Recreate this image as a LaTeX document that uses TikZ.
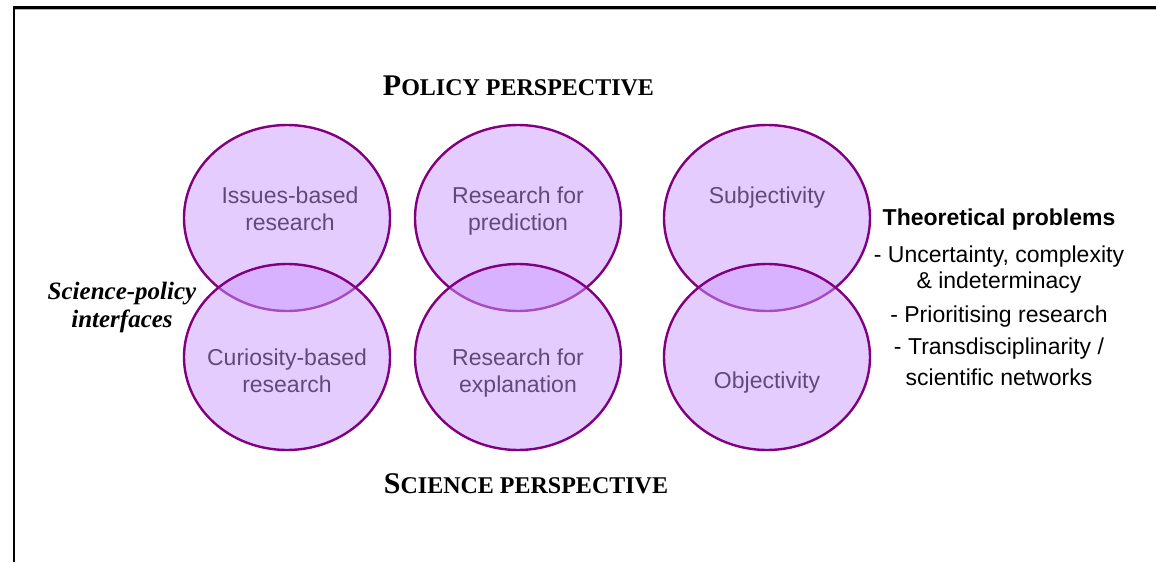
\documentclass[tikz,border=0pt]{standalone}
\usepackage{fontspec}
\setmainfont{Liberation Serif}
\setsansfont{Liberation Sans}
\usetikzlibrary{shapes.geometric}
\definecolor{circfill}{HTML}{CC99FF}
\definecolor{circline}{HTML}{800080}
\definecolor{circtext}{HTML}{5F4A7C}
\tikzset{
  venn/.style={ellipse, draw=circline, line width=2.4pt, fill=circfill, fill opacity=0.5, draw opacity=1,
    minimum width=206pt, minimum height=186pt, inner sep=0pt},
  ctext/.style={anchor=base, inner sep=0pt, text=circtext, font=\sffamily\fontsize{23}{27}\selectfont},
  rtext/.style={anchor=base, inner sep=0pt, text=black, font=\sffamily\fontsize{23}{27}\selectfont},
  ttext/.style={anchor=base, inner sep=0pt, text=black, font=\bfseries},
  itext/.style={anchor=base, inner sep=0pt, text=black, font=\bfseries\itshape\fontsize{25}{28}\selectfont},
  frame/.style={line width=2.5pt, black}
}
\newcommand{\bigsc}[1]{{\fontsize{30}{30}\selectfont #1}}
\newcommand{\smsc}[1]{{\fontsize{24}{24}\selectfont #1}}
\begin{document}
\begin{tikzpicture}[x=1pt,y=-1pt]
\useasboundingbox (0,0) rectangle (1156,562);
% frame (top and left edges only)
\coordinate (ftl) at (14,7.5);
\coordinate (ftr) at (1156,7.5);
\coordinate (fbl) at (14,562);
\draw[gray!60, line width=1pt] (14,9.5) -- (1156,9.5);
\draw[frame] (ftr) -- (ftl) -- (fbl);
% upper circles
\node[venn] (u1) at (287,218) {};
\node[venn] (u2) at (518,218) {};
\node[venn] (u3) at (767,218) {};
% lower circles
\node[venn] (l1) at (287,357) {};
\node[venn] (l2) at (518,357) {};
\node[venn] (l3) at (767,357) {};
% circle texts
\node[ctext] (t1a) at (290,203) {Issues-based};
\node[ctext] (t1b) at (290,230) {research};
\node[ctext] (t2a) at (518,203) {Research for};
\node[ctext] (t2b) at (518,230) {prediction};
\node[ctext] (t3a) at (767,203) {Subjectivity};
\node[ctext] (t4a) at (287,365) {Curiosity-based};
\node[ctext] (t4b) at (287,392) {research};
\node[ctext] (t5a) at (518,365) {Research for};
\node[ctext] (t5b) at (518,392) {explanation};
\node[ctext] (t6a) at (767,388) {Objectivity};
% titles
\node[ttext] (pol) at (518.5,95) {\bigsc{P}\smsc{OLICY PERSPECTIVE}};
\node[ttext] (sci) at (526,493) {\bigsc{S}\smsc{CIENCE PERSPECTIVE}};
% left label
\node[itext] (spi1) at (122,299) {Science-policy};
\node[itext] (spi2) at (122,327) {interfaces};
% right block
\node[rtext, font=\sffamily\bfseries\fontsize{23}{27}\selectfont] (th) at (999,225) {Theoretical problems};
\node[rtext] (r1) at (999,262) {- Uncertainty, complexity};
\node[rtext] (r2) at (999,288) {\& indeterminacy};
\node[rtext] (r3) at (999,322) {- Prioritising research};
\node[rtext] (r4) at (999,354) {- Transdisciplinarity /};
\node[rtext] (r5) at (999,385) {scientific networks};
\end{tikzpicture}
\end{document}
